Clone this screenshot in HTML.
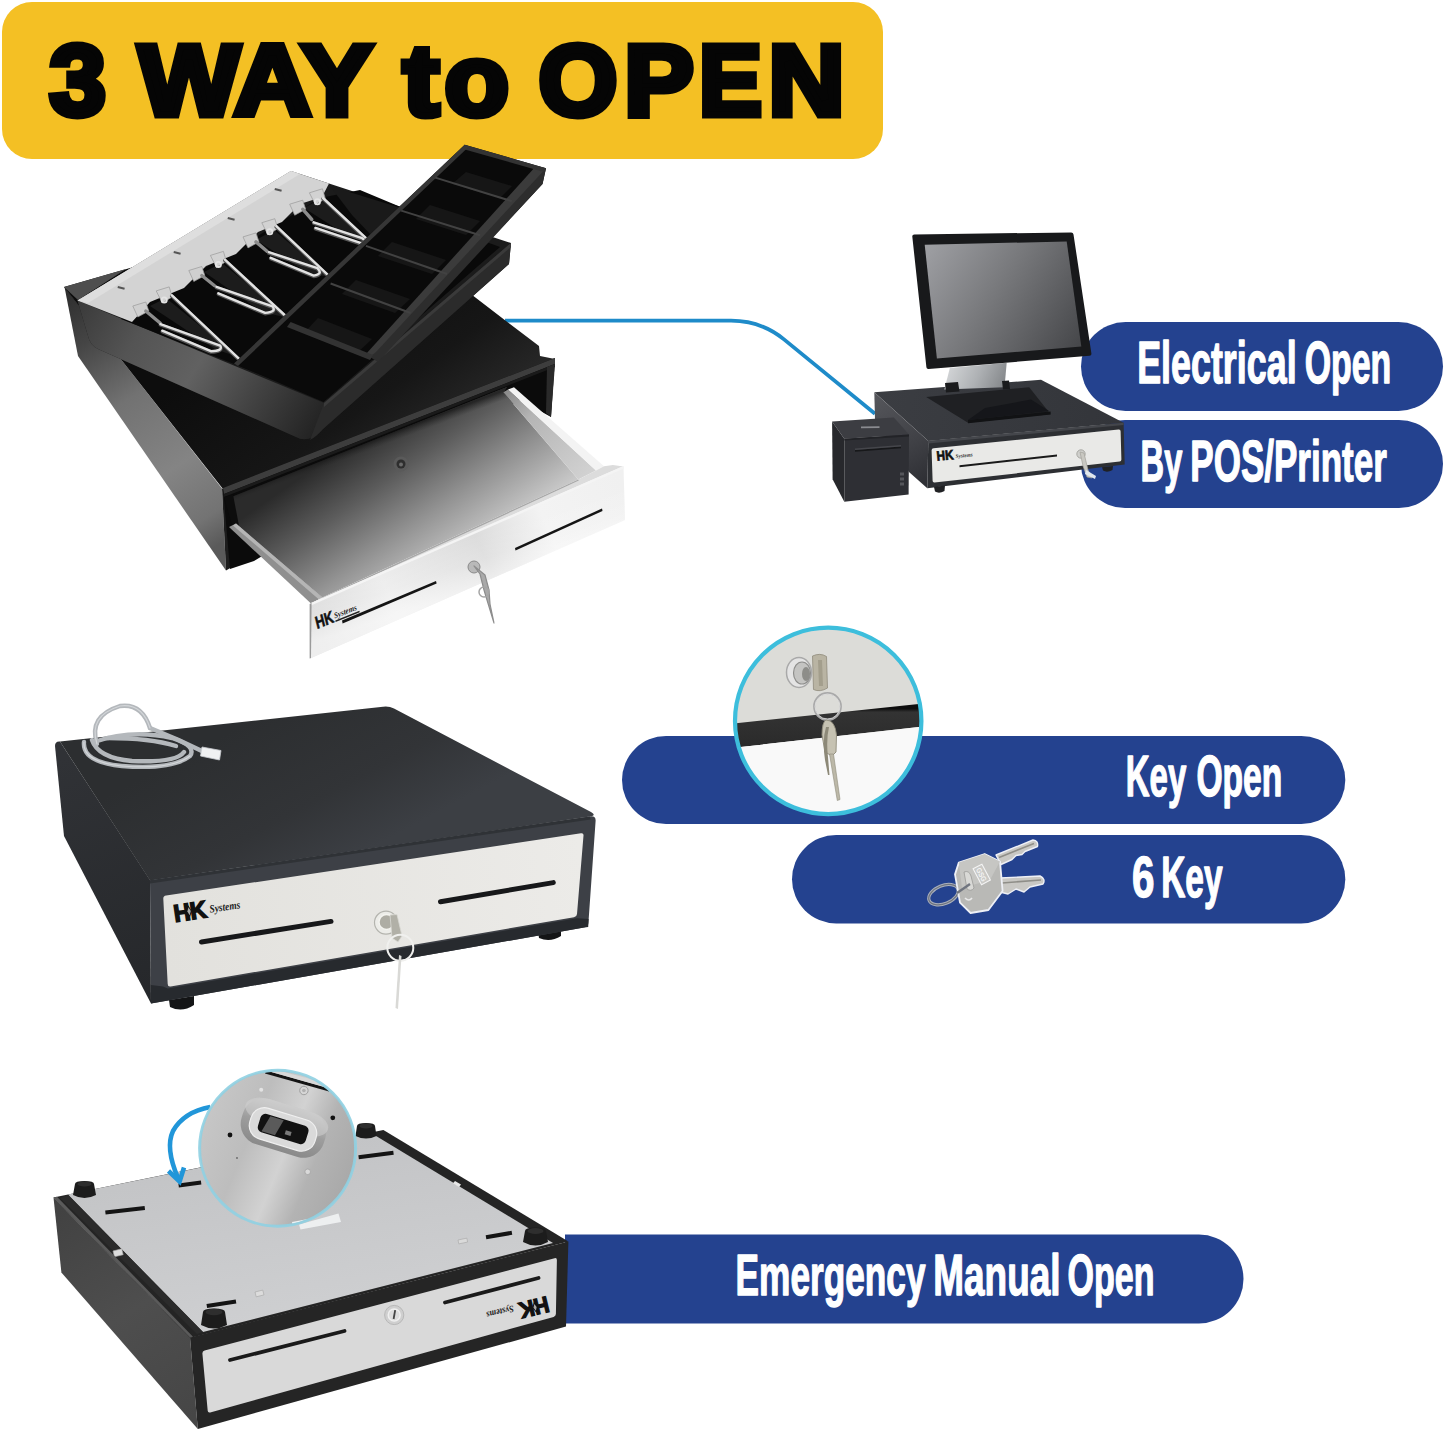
<!DOCTYPE html>
<html><head><meta charset="utf-8"><title>3 WAY to OPEN</title>
<style>
html,body{margin:0;padding:0;background:#fff;overflow:hidden}
svg{display:block}
text{font-family:"Liberation Sans",sans-serif;font-weight:bold}
</style></head>
<body>
<svg width="1445" height="1433" viewBox="0 0 1445 1433">
<rect width="1445" height="1433" fill="#fff"/>
<defs>
<linearGradient id="gLeftFace" gradientUnits="userSpaceOnUse" x1="66" y1="292" x2="226" y2="540">
<stop offset="0" stop-color="#2e2e2e"/><stop offset="0.18" stop-color="#454545"/><stop offset="0.42" stop-color="#727272"/><stop offset="0.7" stop-color="#848484"/><stop offset="0.9" stop-color="#737373"/><stop offset="1" stop-color="#5a5a5a"/>
</linearGradient>
<linearGradient id="gTrayWall" gradientUnits="userSpaceOnUse" x1="80" y1="300" x2="310" y2="440">
<stop offset="0" stop-color="#3a3a3a"/><stop offset="0.25" stop-color="#545454"/><stop offset="0.5" stop-color="#616161"/><stop offset="0.75" stop-color="#414141"/><stop offset="1" stop-color="#232323"/>
</linearGradient>
<linearGradient id="gDrawerFloor" gradientUnits="userSpaceOnUse" x1="366.7" y1="431.9" x2="464.9" y2="573.8">
<stop offset="0" stop-color="#2b2b2b"/><stop offset="0.3" stop-color="#5c5c5c"/><stop offset="0.6" stop-color="#939393"/><stop offset="1" stop-color="#d8d8d8"/>
</linearGradient>
<linearGradient id="gDrawerFloor2" gradientUnits="userSpaceOnUse" x1="240" y1="520" x2="600" y2="440">
<stop offset="0" stop-color="#000" stop-opacity="0"/><stop offset="1" stop-color="#fff" stop-opacity="0"/>
</linearGradient>
<linearGradient id="gPlate1" gradientUnits="userSpaceOnUse" x1="310" y1="630" x2="625" y2="490">
<stop offset="0" stop-color="#dadada"/><stop offset="0.25" stop-color="#ececec"/><stop offset="0.55" stop-color="#dcdcdc"/><stop offset="0.75" stop-color="#f3f3f3"/><stop offset="1" stop-color="#f0f0f0"/>
</linearGradient>
<linearGradient id="gCaseTop1" gradientUnits="userSpaceOnUse" x1="300" y1="300" x2="420" y2="470">
<stop offset="0" stop-color="#0d0d0d"/><stop offset="0.6" stop-color="#161616"/><stop offset="1" stop-color="#2b2b2b"/>
</linearGradient>
<linearGradient id="gDrawerShadow" gradientUnits="userSpaceOnUse" x1="370" y1="441" x2="373" y2="449">
<stop offset="0" stop-color="#0a0a0a" stop-opacity="0.6"/><stop offset="1" stop-color="#222" stop-opacity="0"/>
</linearGradient>
<linearGradient id="gScreen" gradientUnits="userSpaceOnUse" x1="930" y1="248" x2="1078" y2="345">
<stop offset="0" stop-color="#9c9da1"/><stop offset="0.45" stop-color="#77787b"/><stop offset="1" stop-color="#47484b"/>
</linearGradient>
<linearGradient id="gNeck" gradientUnits="userSpaceOnUse" x1="948" y1="365" x2="1006" y2="390">
<stop offset="0" stop-color="#d4d6d8"/><stop offset="0.5" stop-color="#aeb1b4"/><stop offset="1" stop-color="#7f8285"/>
</linearGradient>
<linearGradient id="gPosTop" gradientUnits="userSpaceOnUse" x1="880" y1="395" x2="1120" y2="430">
<stop offset="0" stop-color="#3b3d42"/><stop offset="1" stop-color="#33353a"/>
</linearGradient>
<linearGradient id="gP2Top" gradientUnits="userSpaceOnUse" x1="250" y1="720" x2="330" y2="870">
<stop offset="0" stop-color="#2c2e30"/><stop offset="0.6" stop-color="#323437"/><stop offset="1" stop-color="#3c3f44"/>
</linearGradient>
<linearGradient id="gP2Left" gradientUnits="userSpaceOnUse" x1="60" y1="760" x2="150" y2="990">
<stop offset="0" stop-color="#303236"/><stop offset="1" stop-color="#26282b"/>
</linearGradient>
<linearGradient id="gP2Panel" gradientUnits="userSpaceOnUse" x1="165" y1="940" x2="585" y2="875">
<stop offset="0" stop-color="#e2e1dd"/><stop offset="1" stop-color="#ecebe8"/>
</linearGradient>
<linearGradient id="gP3Left" gradientUnits="userSpaceOnUse" x1="60" y1="1210" x2="190" y2="1420">
<stop offset="0" stop-color="#424242"/><stop offset="0.5" stop-color="#4e4e4e"/><stop offset="1" stop-color="#464646"/>
</linearGradient>
<linearGradient id="gP3Plate" gradientUnits="userSpaceOnUse" x1="300" y1="1130" x2="330" y2="1330">
<stop offset="0" stop-color="#c2c3c5"/><stop offset="1" stop-color="#cfd0d2"/>
</linearGradient>
<clipPath id="cKey"><circle cx="828.2" cy="720.9" r="92"/></clipPath>
<clipPath id="cMag"><circle cx="277.6" cy="1148.2" r="77"/></clipPath>
<linearGradient id="gMag" gradientUnits="userSpaceOnUse" x1="205" y1="1120" x2="350" y2="1180">
<stop offset="0" stop-color="#c6c6c6"/><stop offset="0.3" stop-color="#bdbdbd"/><stop offset="0.55" stop-color="#d2d2d2"/><stop offset="0.75" stop-color="#b3b3b3"/><stop offset="1" stop-color="#a9a9a9"/>
</linearGradient>
<linearGradient id="gBump" x1="0" y1="0" x2="0" y2="1">
<stop offset="0" stop-color="#c9c9c9"/><stop offset="0.5" stop-color="#9d9d9d"/><stop offset="1" stop-color="#8a8a8a"/>
</linearGradient>
<linearGradient id="gKeyBand" x1="0" y1="0" x2="0" y2="1">
<stop offset="0" stop-color="#0e0e0e"/><stop offset="0.12" stop-color="#0e0e0e"/><stop offset="0.2" stop-color="#333"/><stop offset="1" stop-color="#2a2a2a"/>
</linearGradient>
<linearGradient id="gRightWall" gradientUnits="userSpaceOnUse" x1="505" y1="392" x2="590" y2="475">
<stop offset="0" stop-color="#8a8a8a"/><stop offset="0.3" stop-color="#b5b5b5"/><stop offset="1" stop-color="#d2d2d2"/>
</linearGradient>
<linearGradient id="gPlateFade" gradientUnits="userSpaceOnUse" x1="460" y1="540" x2="476" y2="588">
<stop offset="0" stop-color="#fff" stop-opacity="0"/><stop offset="0.5" stop-color="#fff" stop-opacity="0.15"/><stop offset="1" stop-color="#fff" stop-opacity="0.55"/>
</linearGradient>
<linearGradient id="gPosLeft" gradientUnits="userSpaceOnUse" x1="876" y1="396" x2="926" y2="480">
<stop offset="0" stop-color="#55565b"/><stop offset="0.6" stop-color="#404146"/><stop offset="1" stop-color="#2f3035"/>
</linearGradient>
</defs>
<!-- BANNER -->
<g id="banner">
<rect x="2" y="2" width="881" height="157" rx="30" ry="30" fill="#F4C024"/>
<g font-size="101" fill="#050505" stroke="#050505" stroke-width="7" stroke-linejoin="miter" stroke-miterlimit="2.5">
<text x="49.50" y="115.0" textLength="56.39" lengthAdjust="spacingAndGlyphs">3</text>
<text x="138.50" y="115.0" textLength="234.08" lengthAdjust="spacingAndGlyphs">WAY</text>
<text x="403.00" y="115.0" textLength="36.03" lengthAdjust="spacingAndGlyphs">t</text>
<text x="444.40" y="115.0" textLength="64.49" lengthAdjust="spacingAndGlyphs">o</text>
<text x="538.40" y="115.0" textLength="78.91" lengthAdjust="spacingAndGlyphs">O</text>
<text x="624.20" y="115.0" textLength="69.46" lengthAdjust="spacingAndGlyphs">P</text>
<text x="698.90" y="115.0" textLength="62.98" lengthAdjust="spacingAndGlyphs">E</text>
<text x="768.40" y="115.0" textLength="76.02" lengthAdjust="spacingAndGlyphs">N</text>
</g>
</g>
<!-- BLUE CONNECTOR -->
<path d="M505 320.7 H731 C752 320.7 768 326.3 784 339.4 L875 413.8" fill="none" stroke="#1E8BC9" stroke-width="3.8"/>
<!-- PRODUCT 1 : open cash drawer -->
<g id="p1">
<!-- case left face -->
<polygon points="64.5,287 222,488.4 226,570.5 78,356" fill="url(#gLeftFace)"/>
<polygon points="222,488.4 228,491 232,567 226,570.5" fill="#1d1d1d"/>
<!-- case top -->
<polygon points="64,287 130,268 355,205 506,321 539,346 540,356 555,359 223,489" fill="url(#gCaseTop1)"/>
<polygon points="64,287 126,269 78,300" fill="#4e4e4e"/>
<!-- case front (opening) -->
<polygon points="223,488 555,358 551,417 520,400 254,561 230,569" fill="#0b0b0b"/>
<!-- front top rim highlight -->
<polygon points="223,488 555,358 555,364 224,494" fill="#3d3d3d"/>
<polygon points="224,494 555,364 555,367 224,497" fill="#1a1a1a"/>
<!-- right side post -->
<polygon points="547,367 555,364 551,417 546,413" fill="#2a2a2a"/>
<!-- drawer floor -->
<polygon points="236,525 229,498 507,387 503.4,392.3 578.3,479.4 322.4,597.6" fill="url(#gDrawerFloor)"/>
<polygon points="236,525 229,498 507,387 503.4,392.3 578.3,479.4 322.4,597.6" fill="url(#gDrawerFloor2)"/>
<polygon points="236,525 229,498 507,387 503.4,392.3 578.3,479.4 322.4,597.6" fill="url(#gDrawerShadow)"/>
<polygon points="224,497 233,494.5 240,531 233,528" fill="#0d0d0d"/>
<!-- drawer left wall top edge -->
<polygon points="229,527 236,523.5 322.4,597.6 311,603.4" fill="#8f8f8f"/>
<polygon points="233,525.5 236,523.5 322.4,597.6 319,599.4" fill="#b5b5b5"/>
<!-- drawer right wall -->
<polygon points="503.4,392.3 508,389.5 596,470.5 578.3,479.4" fill="url(#gRightWall)"/>
<polygon points="508,389.5 514,387.3 604,466.3 596,470.5" fill="#f3f3f3"/>
<!-- front wall top band -->
<polygon points="322.4,597.6 578.3,479.4 596,470.5 604,466.3 612.9,464.9 623.3,466.4 311,603.4" fill="#dcdcdc"/>
<polygon points="322.4,597.6 578.3,479.4 578.8,480.6 322.8,598.9" fill="#a8a8a8"/>
<!-- hole -->
<circle cx="401" cy="464" r="7.5" fill="#5a5a5a"/><circle cx="401" cy="464" r="4.5" fill="#2e2e2e"/><circle cx="401" cy="464.5" r="2" fill="#6a6a6a"/>
<!-- front plate -->
<polygon points="311,603 623.5,466 625,520 310,658.5" fill="url(#gPlate1)"/>
<polygon points="311,603 623.5,466 623.7,468.5 311,605.5" fill="#f4f4f4"/>
<polygon points="311,603 623.5,466 625,520 310,658.5" fill="url(#gPlateFade)"/>
<polygon points="309.6,604 311.6,603 311,658 309.6,658.5" fill="#9a9a9a"/>
<!-- slots -->
<polygon points="342,620.5 436,581 436.6,583.6 342.6,623.4" fill="#151515"/>
<polygon points="515,548 602,508.5 602.5,511 515.5,550.5" fill="#151515"/>
<!-- logo -->
<g transform="translate(317,629) rotate(-22) skewX(-8)">
<text x="0" y="0" font-size="17" fill="#111" stroke="#111" stroke-width="0.6" textLength="19" lengthAdjust="spacingAndGlyphs">HK</text>
<text style="font-family:'Liberation Serif',serif;font-style:italic;font-weight:bold" x="20" y="-3" font-size="8" fill="#222" textLength="24" lengthAdjust="spacingAndGlyphs">Systems</text>
<rect x="20" y="-1" width="26" height="1.4" fill="#222"/>
</g>
<!-- lock + key -->
<circle cx="474" cy="567" r="6" fill="#b9b9b9" stroke="#8a8a8a" stroke-width="1"/>
<path d="M474 566 L480 574 L484 590 L487 600 L494 623 L490 604 L489 590 L485 575 Z" fill="#a9a9a9" stroke="#8d8d8d" stroke-width="1.2" stroke-linejoin="round"/>
<circle cx="484" cy="592" r="5" fill="none" stroke="#a5a5a5" stroke-width="1.5"/>
<!-- MAIN TRAY -->
<!-- outer shell -->
<path d="M77.5,300.5 L291,171 L329,183.5 L401,207 L511,243 L509,264 L322,430 Q308,444 296,437 L98,349 Q90,345 88,336 Z" fill="#1b1b1b"/>
<!-- front-left wall outer face -->
<path d="M77.5,300.5 L324,403 L322,430 Q308,444 296,437 L98,349 Q90,345 88,336 Z" fill="url(#gTrayWall)"/>
<!-- right wall outer face -->
<path d="M324,403 L511,243 L509,264 L322,430 Q316,437 310,440 Z" fill="#2b2b2b"/>
<path d="M324,403 L511,243 L511,247 L324,407 Z" fill="#3a3a3a"/>
<!-- tray interior -->
<polygon points="121,319 320,198 360,190 470,236 500,247 324,400" fill="#090909"/>
<!-- interior folds (bill compartments) -->
<polygon points="166,298 238,357 215,349 150,306" fill="#1c1c1c"/>
<polygon points="222,263 289,318 262,312 204,272" fill="#1c1c1c"/>
<polygon points="274,230 329,277 308,273 256,240" fill="#1c1c1c"/>
<polygon points="320,199 366,238 348,236 304,208" fill="#1c1c1c"/>
<polygon points="330,186 401,208 372,236 352,215" fill="#1a1a1a"/>
<!-- metal plate -->
<polygon points="77.5,300.5 291,171 329,183.5 322,197 300,204 282,222 258,232 236,254 206,266 184,288 150,302 132,322" fill="#d3d3d3"/>
<polygon points="77.5,300.5 291,171 300,174 88,303" fill="#dedede"/>
<!-- plate slots -->
<g fill="#555"><rect x="118" y="286" width="7" height="2" transform="rotate(14 118 286)"/><rect x="174" y="251" width="7" height="2" transform="rotate(14 174 251)"/><rect x="228" y="217" width="7" height="2" transform="rotate(14 228 217)"/><rect x="275" y="188" width="7" height="2" transform="rotate(14 275 188)"/></g>
<!-- clip hooks / tabs -->
<polygon points="156.2,290.9 169.2,286.9 172.2,296.9 162.2,302.9" fill="#d2d2d2" stroke="#9a9a9a" stroke-width="0.7"/>
<circle cx="164.2" cy="299.9" r="2.6" fill="none" stroke="#e4e4e4" stroke-width="1.8"/>
<polygon points="132.8,306.0 145.8,302.0 148.8,311.0 137.8,317.0" fill="#cfcfcf" stroke="#9a9a9a" stroke-width="0.7"/>
<path d="M145.8,311.0 L160.4,323.2" stroke="#8c8c8c" stroke-width="3.4" stroke-linecap="round" fill="none"/>
<polygon points="210.4,255.4 223.4,251.4 226.4,261.4 216.4,267.4" fill="#d2d2d2" stroke="#9a9a9a" stroke-width="0.7"/>
<circle cx="218.4" cy="264.4" r="2.6" fill="none" stroke="#e4e4e4" stroke-width="1.8"/>
<polygon points="188.8,270.5 201.8,266.5 204.8,275.5 193.8,281.5" fill="#cfcfcf" stroke="#9a9a9a" stroke-width="0.7"/>
<path d="M201.8,275.5 L214.6,285.8" stroke="#8c8c8c" stroke-width="3.4" stroke-linecap="round" fill="none"/>
<polygon points="261.8,222.7 274.8,218.7 277.8,228.7 267.8,234.7" fill="#d2d2d2" stroke="#9a9a9a" stroke-width="0.7"/>
<circle cx="269.8" cy="231.7" r="2.6" fill="none" stroke="#e4e4e4" stroke-width="1.8"/>
<polygon points="243.0,236.9 256.0,232.9 259.0,241.9 248.0,247.9" fill="#cfcfcf" stroke="#9a9a9a" stroke-width="0.7"/>
<path d="M256.0,241.9 L267.0,251.3" stroke="#8c8c8c" stroke-width="3.4" stroke-linecap="round" fill="none"/>
<polygon points="309.4,192.8 322.4,188.8 325.4,198.8 315.4,204.8" fill="#d2d2d2" stroke="#9a9a9a" stroke-width="0.7"/>
<circle cx="317.4" cy="201.8" r="2.6" fill="none" stroke="#e4e4e4" stroke-width="1.8"/>
<polygon points="289.7,204.2 302.7,200.2 305.7,209.2 294.7,215.2" fill="#cfcfcf" stroke="#9a9a9a" stroke-width="0.7"/>
<path d="M302.7,209.2 L311.8,219.5" stroke="#8c8c8c" stroke-width="3.4" stroke-linecap="round" fill="none"/>
<!-- clip wires -->
<g fill="none" stroke-linecap="round" stroke-linejoin="round">
<path d="M171.7,296.0 L238.9,359.5" stroke="#555" stroke-width="3.6"/>
<path d="M160.4,324.9 L220.2,346.4 Q223.6,351.7 210.9,352.0 L162.3,331.5" stroke="#555" stroke-width="3.6"/>
<path d="M171.7,295.2 L238.9,358.7" stroke="#e2e2e2" stroke-width="2.4"/>
<path d="M160.4,324.1 L220.2,345.6 Q223.6,350.9 210.9,351.2 L162.3,330.7" stroke="#e2e2e2" stroke-width="2.4"/>
<path d="M224.9,260.5 L288.4,319.3" stroke="#555" stroke-width="3.6"/>
<path d="M216.5,287.6 L272.6,307.2 Q276.8,313.0 265.1,313.7 L218.4,294.1" stroke="#555" stroke-width="3.6"/>
<path d="M224.9,259.7 L288.4,318.5" stroke="#e2e2e2" stroke-width="2.4"/>
<path d="M216.5,286.8 L272.6,306.4 Q276.8,312.2 265.1,312.9 L218.4,293.3" stroke="#e2e2e2" stroke-width="2.4"/>
<path d="M276.3,226.9 L330.5,278.2" stroke="#555" stroke-width="3.6"/>
<path d="M268.8,253.0 L317.4,268.9 Q323.5,275.1 313.7,276.4 L270.7,258.6" stroke="#555" stroke-width="3.6"/>
<path d="M276.3,226.1 L330.5,277.4" stroke="#e2e2e2" stroke-width="2.4"/>
<path d="M268.8,252.2 L317.4,268.1 Q323.5,274.3 313.7,275.6 L270.7,257.8" stroke="#e2e2e2" stroke-width="2.4"/>
<path d="M323.0,198.8 L366.0,239.0" stroke="#555" stroke-width="3.6"/>
<path d="M313.7,223.1 L362.2,239.0 Q369.3,243.8 360.4,243.7 L315.5,228.7" stroke="#555" stroke-width="3.6"/>
<path d="M323.0,198.0 L366.0,238.2" stroke="#e2e2e2" stroke-width="2.4"/>
<path d="M313.7,222.3 L362.2,238.2 Q369.3,243.0 360.4,242.9 L315.5,227.9" stroke="#e2e2e2" stroke-width="2.4"/>
</g>
<!-- COIN TRAY -->
<polygon points="464.7,144.7 546,168.2 542.5,184 380,358 372,360 323.5,402 234,363.5" fill="#0a0a0a"/>
<!-- coin tray right wall (outer) -->
<polygon points="546,168.2 542.5,184 378,362 370,357 540,172" fill="#2d2d2d"/>
<polygon points="536,166 546,168.2 376,352 370,357 366,354" fill="#3b3b3b"/>
<!-- coin tray top rim -->
<polygon points="464.7,144.7 546,168.2 544,172 463,149" fill="#333"/>
<!-- divider (left wall of coin tray) -->
<polygon points="464.7,144.7 469,146.5 238,366 234,363.5" fill="#363636"/>
<!-- compartment floor patches -->
<g fill="#161616">
<polygon points="466,172 512,186 500,198 452,184"/>
<polygon points="430,205 480,221 466,235 416,219"/>
<polygon points="392,242 446,260 432,274 378,256"/>
<polygon points="356,280 410,299 395,313 342,294"/>
<polygon points="318,318 372,339 356,354 304,333"/>
</g>
<!-- compartment dividers -->
<g stroke="#424242" stroke-width="2">
<line x1="435.3" y1="177.6" x2="511.8" y2="201.2"/>
<line x1="401.2" y1="210.6" x2="480" y2="235.3"/>
<line x1="365.9" y1="245.9" x2="447" y2="274"/>
<line x1="330.6" y1="283.5" x2="410.6" y2="313"/>
</g>
<polygon points="290.6,322 373,355 370,360 287,327" fill="#333"/>
</g>
<!-- PILLS -->
<g id="pills" fill="#24428F">
<rect x="1081" y="322" width="362" height="89" rx="44.5"/>
<rect x="1081" y="420" width="362" height="88" rx="44"/>
<rect x="622" y="736" width="723.3" height="88" rx="44"/>
<rect x="792" y="835" width="553.3" height="88.4" rx="44.2"/>
<path d="M565 1234.5H1199a44.5 44.5 0 0 1 0 89H565z"/>
</g>
<!-- POS SYSTEM -->
<g id="pos">
<!-- drawer -->
<polygon points="874.3,392.3 1041,379.8 1123.6,422.7 928.3,441" fill="url(#gPosTop)"/>
<polygon points="874.3,392.3 928.3,441 927.3,488.2 909,472 875,420" fill="url(#gPosLeft)"/>
<polygon points="928.3,441 1123.6,422.7 1124.7,464.6 927.3,488.2" fill="#2d2f33"/>
<polygon points="928.3,441 1123.6,422.7 1123.6,425 928.3,443.4" fill="#44464b"/>
<!-- white panel -->
<path d="M933.6,448.3 L1118.6,429.4 Q1120.6,429.2 1120.6,431.2 L1121.4,459.6 Q1121.4,461.4 1119.6,461.6 L934.6,482.6 Q932.6,482.8 932.6,480.8 L931.6,450.3 Q931.6,448.5 933.6,448.3 Z" fill="#e9e9e7"/>
<polygon points="959.5,465.2 1057,454.5 1057,456.5 959.5,467.2" fill="#1a1a1a"/>
<!-- logo -->
<g transform="translate(937,460.8) rotate(-5.5)">
<text x="0" y="0" font-size="13.5" fill="#111" stroke="#111" stroke-width="0.7" textLength="17" lengthAdjust="spacingAndGlyphs">HK</text>
<text style="font-family:'Liberation Serif',serif;font-style:italic;font-weight:bold" x="19" y="-1" font-size="5.5" fill="#333" textLength="17" lengthAdjust="spacingAndGlyphs">Systems</text>
</g>
<!-- lock / key -->
<circle cx="1081" cy="454" r="4.2" fill="#cfcfcc" stroke="#9a9a96" stroke-width="0.8"/>
<path d="M1080 452 L1084 453 L1088 470 L1092 478 L1087 477 L1083 466 Z" fill="#c9c8c2" stroke="#a3a29b" stroke-width="0.7"/>
<path d="M1086 470 L1096 476 L1095 479 L1085 474 Z" fill="#dfe6ee"/>
<!-- feet -->
<path d="M934,487 L945,485.6 L944.5,491 Q939,494 935,491.5 Z" fill="#202124"/>
<path d="M1102,467.2 L1113,466 L1112.5,470 Q1107,473 1103,470.5 Z" fill="#202124"/>
<!-- stand base -->
<polygon points="926.2,397 1029.2,387.3 1050.6,414.2 968,422.7" fill="#1f2023"/>
<polygon points="968,420 1050.6,411.5 1050.6,414.6 968,423.2" fill="#111214"/>
<polygon points="985,408 1031,399.5 1049,411 968,420" fill="#15161a"/>
<!-- neck -->
<polygon points="949.8,368 1006.7,362.7 1004.5,387.3 944.4,389.5" fill="url(#gNeck)"/>
<polygon points="945,383 958,382 959.5,391.5 946,392.5" fill="#1a1b1d"/>
<polygon points="1002,381 1009,380.5 1010,389 1003,389.5" fill="#1a1b1d"/>
<!-- monitor -->
<path d="M914.3,234.5 L1071.2,232.4 Q1073.2,232.4 1073.5,234.4 L1091.4,353.6 Q1091.6,355.6 1089.6,355.8 L928.6,369 Q926.6,369.2 926.4,367.2 L912.3,236.6 Q912.1,234.6 914.3,234.5 Z" fill="#18191b"/>
<polygon points="924.7,244.7 1066.7,241.5 1081.3,346.6 936.9,358.4" fill="url(#gScreen)"/>
<!-- printer -->
<polygon points="832.1,421.6 893.8,417.5 909,434.6 844.3,438.7" fill="#3c3d42"/>
<polygon points="832.1,421.6 844.3,438.7 844.3,501.7 832.6,479.2" fill="#27282c"/>
<polygon points="844.3,438.7 909,434.6 908.6,494.5 844.3,501.7" fill="#2e2f34"/>
<polygon points="844.3,438.7 909,434.6 909,436.4 844.3,440.5" fill="#222327"/>
<polygon points="855,450 901,446.4 901,448.2 855,451.8" fill="#17181a"/>
<polygon points="855,448.6 901,445 901,446.4 855,450" fill="#45464b"/>
<rect x="861" y="426.6" width="18.5" height="1.6" fill="#8a8b90" transform="rotate(-1 861 427)"/>
<g fill="#55565b"><rect x="900" y="472.5" width="4" height="3"/><rect x="900" y="477.5" width="4" height="3"/><rect x="900" y="482.5" width="4" height="3"/></g>
</g>
<!-- KEY CLOSE-UP CIRCLE -->
<g id="keycircle">
<circle cx="828.2" cy="720.9" r="93.2" fill="#fafafa"/>
<g clip-path="url(#cKey)">
<rect x="730" y="620" width="200" height="120" fill="#dcdcd8"/>
<polygon points="730,723.9 926,703.2 926,726.3 730,748.2" fill="url(#gKeyBand)"/>
<polygon points="730,748.2 926,726.3 926,830 730,830" fill="#f9f9f9"/>
<!-- lock -->
<ellipse cx="799" cy="672.5" rx="12.5" ry="15" fill="#e4e4e4" stroke="#a9a9a9" stroke-width="1.5"/>
<ellipse cx="802" cy="673" rx="8.5" ry="11" fill="#c4c4c2" stroke="#8e8e8c" stroke-width="1.2"/>
<ellipse cx="806" cy="674" rx="4" ry="7" fill="#8d8d89"/>
<!-- key head in lock -->
<path d="M812.5,656 Q820,652.5 826.5,656.5 L827.5,688 Q820,692.5 813.5,689.5 Z" fill="#b9b4a3" stroke="#918c7c" stroke-width="0.8"/>
<path d="M818,660 L822,660 L823,686 L819,686 Z" fill="#a39e8c"/>
<!-- ring -->
<circle cx="827.5" cy="706.5" r="13.3" fill="none" stroke="#a9a9a9" stroke-width="2.2"/>
<circle cx="827.5" cy="706.5" r="12.5" fill="none" stroke="#e2e2e2" stroke-width="0.8"/>
<!-- hanging keys -->
<path d="M826,720 Q835,720 836.5,735 L836,752 L832,756 L825,752 L822,735 Q822,722 826,720 Z" fill="#c6c2b2" stroke="#8f8b7b" stroke-width="0.9"/>
<path d="M826,727 Q822,740 825,760 L828,775 L829.5,775 L828,757 Q826,740 829,727 Z" fill="#8d8978"/>
<path d="M829.5,754 L833.5,754 L840,799.5 L837.3,800.5 Z" fill="#bcb8a8" stroke="#8f8b7b" stroke-width="0.6"/>
</g>
<circle cx="828.2" cy="720.9" r="93.2" fill="none" stroke="#3DBEDC" stroke-width="4.2"/>
</g>
<!-- KEY BUNCH -->
<g id="keys">
<!-- ring -->
<ellipse cx="943.5" cy="894.6" rx="15.5" ry="9" transform="rotate(-22 943.5 894.6)" fill="none" stroke="#aab0bb" stroke-width="3.2"/>
<ellipse cx="943.5" cy="894.6" rx="15.5" ry="9" transform="rotate(-22 943.5 894.6)" fill="none" stroke="#6e7480" stroke-width="1.2"/>
<!-- blades -->
<path d="M996,855 L1033,840 Q1038.5,840.5 1037.5,846.5 L1025,851.5 L1022,854.5 L1016,855.5 L1012,859.5 L1001,864.5 Z" fill="#c9c8c4" stroke="#eef0f6" stroke-width="1.4" stroke-linejoin="round"/>
<path d="M999,857.5 L1034,843.5" stroke="#8f8e88" stroke-width="1.6" fill="none"/>
<path d="M1000,878 L1040,876 Q1046,879 1043,884 L1030,887 L1024,892 L1016,889 L1008,894 L1000,892 Z" fill="#c9c8c4" stroke="#eef0f6" stroke-width="1.4" stroke-linejoin="round"/>
<path d="M1002,883 L1041,880" stroke="#8f8e88" stroke-width="1.6" fill="none"/>
<!-- bow -->
<path d="M958.8,862.6 L984.7,854 L1000,861.5 L1002.6,891 L988.4,910 L970.6,913 L960,902.6 L955,874.4 Z" fill="#b9b9b6" stroke="#eef0f6" stroke-width="1.8" stroke-linejoin="round"/>
<path d="M958.8,862.6 L984.7,854 L1000,861.5 L990,880 L962,888 Z" fill="#c6c6c3"/>
<!-- label -->
<g transform="translate(977.5,866.5) rotate(62)"><rect x="0" y="-5" width="18" height="10" fill="#c9c9c6" stroke="#f4f4f4" stroke-width="1.1"/><text x="1.8" y="3" font-size="7.5" fill="#f4f4f4" textLength="14.5" lengthAdjust="spacingAndGlyphs">GSG</text></g>
<!-- hole + ring through -->
<path d="M964,872 Q969,870 971,876 L974,888 Q971,892 967,889 Z" fill="#d9d9d6" stroke="#9b9b98" stroke-width="0.8"/>
<path d="M957,893 L970,884" stroke="#70757f" stroke-width="2.4" fill="none"/>
<path d="M965,898 Q969,902 972,898" stroke="#e9e9e9" stroke-width="1.6" fill="none"/>
</g>
<!-- PRODUCT 2 : closed drawer -->
<g id="p2">
<!-- feet -->
<path d="M169,1000 L194,996 L194,1005 Q182,1013 170,1007 Z" fill="#141516"/>
<path d="M538,931 L561,927 L561,936 Q550,943 539,938 Z" fill="#141516"/>
<!-- left face -->
<path d="M55,746 Q55,741 60,741.5 L150,880 L151,1003.5 L64,836 Z" fill="url(#gP2Left)"/>
<!-- top face -->
<path d="M60,741.5 L383,706.8 Q389,706 394,708.6 L591,812 Q597,815.5 590,816.6 L150,880.5 Z" fill="url(#gP2Top)"/>
<!-- front frame -->
<path d="M150,880.3 L590,816.4 Q596,815.6 595.6,821 L588.4,923 Q588.2,927 584,927.6 L151,1003.5 Z" fill="#3d4046"/>
<path d="M150,880.3 L590,816.4 L590.6,819.4 L150,883.4 Z" fill="#2f3236"/>
<polygon points="151,985 163,986.5 167.8,988.5 577,918.2 588.6,919 588.4,923 588.2,927 584,927.6 151,1003.5" fill="#272a2e"/>
<!-- white panel -->
<path d="M166.2,895.6 L581,833.2 Q583.8,832.8 583.5,835.6 L577,914 Q576.8,916.8 574,917.3 L170.6,986.5 Q167.8,987 167.7,984 L163.3,898.8 Q163.2,896 166.2,895.6 Z" fill="url(#gP2Panel)"/>
<!-- slots -->
<path d="M201.5,942 L331,921.4" stroke="#17181a" stroke-width="5" stroke-linecap="round" fill="none"/>
<path d="M440.5,901.8 L553.3,882.6" stroke="#17181a" stroke-width="5" stroke-linecap="round" fill="none"/>
<!-- logo -->
<g transform="translate(175,922) rotate(-8.5)">
<text x="0" y="0" font-size="24" fill="#111" stroke="#111" stroke-width="1.6" textLength="33" lengthAdjust="spacingAndGlyphs">HK</text>
<polygon points="15.5,-14.5 18.3,-8.5 15.5,-2.5 12.7,-8.5" fill="#111"/><polygon points="15.5,-12.5 17.2,-8.5 15.5,-4.5 13.8,-8.5" fill="#a9a9a6"/>
<text style="font-family:'Liberation Serif',serif;font-style:italic;font-weight:bold" x="36" y="-4" font-size="11" fill="#222" textLength="31" lengthAdjust="spacingAndGlyphs">Systems</text>
</g>
<!-- lock -->
<circle cx="386" cy="922.6" r="11.5" fill="#ecece8" stroke="#b4b4ae" stroke-width="1.2"/>
<circle cx="386.5" cy="922" r="7.5" fill="#aeada4" stroke="#f4f4f0" stroke-width="1.4"/>
<path d="M390,915 L397,914.5 L402,936 L398,942 L392,938 L391,926 Z" fill="#b1b0a7" stroke="#d9d9d4" stroke-width="0.8"/>
<!-- ring and key -->
<circle cx="400.3" cy="947.8" r="13" fill="none" stroke="#f0f0ee" stroke-width="2"/>
<path d="M399,955 L401.5,956 L398,1009 L395.5,1008 Z" fill="#d9d9d6"/>
<!-- cable -->
<g fill="none" stroke="#b4b8bc" stroke-width="4.4" stroke-linecap="round">
<path d="M97,744 Q88,716 120,706 Q142,703 150,728"/>
<path d="M84,742 Q82,762 122,766 Q172,770 190,756 Q197,746 172,738 Q132,729 94,742"/>
<path d="M92,740 Q98,758 132,761 Q176,763 184,752"/>
<path d="M108,738 Q150,738 176,746"/>
<path d="M150,728 Q178,739 204,752"/>
</g>
<g fill="none" stroke="#d3d6d9" stroke-width="1.2" stroke-linecap="round">
<path d="M84,742 Q82,762 122,766 Q172,770 190,756"/>
<path d="M97,744 Q88,716 120,706 Q142,703 150,728"/>
</g>
<polygon points="202,747 221,750.5 219.5,760 200.5,756" fill="#f0f1f2" stroke="#c9ccd0" stroke-width="0.8"/>
</g>
<!-- PRODUCT 3 : upside-down drawer -->
<g id="p3">
<!-- left face -->
<polygon points="53.5,1197.5 190,1337.6 197.8,1429 61.4,1272.5" fill="url(#gP3Left)"/>
<!-- top rim (black) -->
<polygon points="53.5,1197.5 383.4,1130 568.4,1241.5 190,1338" fill="#242424"/>
<!-- plate -->
<polygon points="68,1194.6 370.7,1132.7 553,1243 203,1332" fill="url(#gP3Plate)"/>
<polygon points="455,1181 461,1184.6 459,1187 453,1183.2" fill="#e6e6e6"/>
<polygon points="68,1195 203,1332 197,1334 60,1198" fill="#2b2b2b"/>
<!-- plate slots -->
<g stroke="#141414" stroke-width="4" fill="none">
<path d="M105.4,1212.5 L144.8,1208"/><path d="M178.6,1185.5 L201.1,1182.6"/><path d="M206.8,1306 L236,1301.6"/>
<path d="M358.6,1157.3 L393.5,1152.8"/><path d="M486,1237.3 L511.9,1232.8"/>
</g>
<!-- back feet (on plate) -->
<path d="M357,1126 Q357,1123 366,1123 Q375,1123 375,1126 L376.5,1136 Q366,1141 355.5,1136 Z" fill="#1c1c1c"/>
<path d="M75,1184 Q75,1181 84.5,1181 Q94,1181 94,1184 L96,1195 Q84.5,1201 73,1195 Z" fill="#1c1c1c"/>
<!-- small tabs -->
<rect x="113" y="1251" width="9" height="6" fill="#dcdcdc" stroke="#a8a8a8" stroke-width="0.6" transform="rotate(-14 113 1251)"/>
<rect x="255" y="1292" width="8" height="5" fill="#dcdcdc" stroke="#a8a8a8" stroke-width="0.6" transform="rotate(-14 255 1292)"/>
<rect x="458" y="1240" width="9" height="4" fill="#dadada" stroke="#a8a8a8" stroke-width="0.6" transform="rotate(-12 458 1240)"/>
<!-- front frame -->
<polygon points="190,1337.6 568.4,1241.5 566,1326.5 197.8,1429" fill="#252525"/>
<polygon points="53.5,1197.5 57,1196.8 193,1336.8 190,1337.6" fill="#5a5a5a"/>
<!-- white panel -->
<path d="M204.6,1350.6 L554.6,1258.2 Q556.9,1257.6 556.9,1260 L555.9,1314 Q555.8,1316.2 553.6,1316.9 L210.2,1412.5 Q207.9,1413.1 207.7,1410.8 L202.4,1353.5 Q202.3,1351.2 204.6,1350.6 Z" fill="#d9d9d9"/>
<!-- slots -->
<path d="M230,1360 L344.5,1331" stroke="#1a1a1a" stroke-width="3.8" stroke-linecap="round" fill="none"/>
<path d="M445,1302.5 L538.5,1278" stroke="#1a1a1a" stroke-width="3.8" stroke-linecap="round" fill="none"/>
<!-- lock -->
<circle cx="394.2" cy="1315" r="9.6" fill="#cfcfcf" stroke="#b8b8b8" stroke-width="1"/>
<circle cx="394.2" cy="1315" r="6" fill="#dcdcdc" stroke="#efefef" stroke-width="1.4"/>
<rect x="393.4" y="1310" width="1.8" height="9" fill="#444" transform="rotate(10 394 1315)"/>
<!-- upside-down logo -->
<g transform="translate(546.8,1296.3) rotate(166.3)">
<text x="0" y="0" font-size="22.5" fill="#111" stroke="#111" stroke-width="1.4" textLength="30" lengthAdjust="spacingAndGlyphs">HK</text>
<polygon points="14,-13.5 16.8,-8 14,-2.5 11.2,-8" fill="#111"/><polygon points="14,-11.5 15.6,-8 14,-4.5 12.4,-8" fill="#a9a9a9"/>
<text style="font-family:'Liberation Serif',serif;font-style:italic;font-weight:bold" x="35" y="-1" font-size="9.5" fill="#222" textLength="28" lengthAdjust="spacingAndGlyphs">Systems</text>
</g>
<!-- front feet -->
<path d="M525,1231 Q525,1227.5 535.5,1227.5 Q546,1227.5 546,1231 L548,1242 Q535.5,1249 523,1242 Z" fill="#1c1c1c"/>
<ellipse cx="535.5" cy="1231" rx="8" ry="3" fill="#2e2e2e"/>
<path d="M203,1312 Q203,1308.5 214,1308.5 Q225,1308.5 225,1312 L227,1325 Q214,1332 201,1325 Z" fill="#1c1c1c"/>
<ellipse cx="214" cy="1312" rx="8.5" ry="3.2" fill="#2e2e2e"/>
<ellipse cx="84.5" cy="1184" rx="7" ry="2.6" fill="#2e2e2e"/>
<ellipse cx="366" cy="1126" rx="6.5" ry="2.4" fill="#2e2e2e"/>
</g>
<!-- MAGNIFIER + ARROW -->
<g id="mag">
<path d="M210.2,1107.1 Q184,1112 173,1131 Q165,1148 178,1178" fill="none" stroke="#2196D9" stroke-width="4.6" stroke-linecap="butt"/>
<path d="M168.5,1171 L179.6,1181.5 L184,1167.5" fill="none" stroke="#2196D9" stroke-width="4.6" stroke-linejoin="miter" stroke-linecap="butt"/>
<circle cx="277.6" cy="1148.2" r="78" fill="url(#gMag)"/>
<g clip-path="url(#cMag)">
<!-- black top strip -->
<polygon points="266,1070.5 330,1088.5 329,1091.5 265,1073.5" fill="#141414"/>
<polygon points="262,1066 336,1086 331,1089 266,1070.5" fill="#d8d8d8"/>
<!-- bump -->
<g transform="translate(283.3,1128.5) rotate(17)">
<rect x="-43" y="-24" width="86" height="47" rx="21" fill="url(#gBump)"/>
<rect x="-43" y="-24" width="86" height="24" rx="21" fill="#cfcfcf" opacity="0.55"/>
<rect x="-34" y="-15" width="68" height="32" rx="14" fill="#dadada" stroke="#efefef" stroke-width="1.2"/>
<rect x="-25" y="-9" width="50" height="19" rx="5" fill="#121212"/>
<polygon points="-16,-8 -2,-8 -6,9 -20,9" fill="#5a5a5a"/>
<rect x="3" y="1" width="6" height="4" fill="#7a7a7a"/>
</g>
<!-- screws / holes -->
<circle cx="303.9" cy="1090.5" r="4.2" fill="#d6d6d6" stroke="#9a9a9a" stroke-width="0.9"/>
<circle cx="303.9" cy="1090.5" r="1.8" fill="#b0b0b0"/>
<circle cx="261.2" cy="1089.8" r="2" fill="#e3e3e3"/>
<circle cx="230" cy="1135" r="2.4" fill="#111"/>
<circle cx="332.8" cy="1117.8" r="2.4" fill="#111"/>
<circle cx="307.7" cy="1171.8" r="2.8" fill="#d9d9d9" stroke="#9f9f9f" stroke-width="0.7"/>
<circle cx="237" cy="1158" r="0.9" fill="#666"/>
<!-- sticker -->
<polygon points="292,1222 340,1213 342,1225 294,1234" fill="#eef2f4"/>
</g>
<polygon points="299,1224.5 338.5,1213.5 341,1222 300.5,1229.5" fill="#f1f3f4" opacity="0.9"/>
<circle cx="277.6" cy="1148.2" r="78" fill="none" stroke="#8fd0e2" stroke-width="3" opacity="0.9"/>
</g>
<!-- LABELS -->
<g id="labels" fill="#fff" stroke="#fff" stroke-width="1.4" stroke-linejoin="round">
<text x="1137.20" y="383.2" font-size="58.5" textLength="159.40" lengthAdjust="spacingAndGlyphs">Electrical</text>
<text x="1304.70" y="383.2" font-size="58.5" textLength="86.61" lengthAdjust="spacingAndGlyphs">Open</text>
<text x="1140.60" y="480.6" font-size="58" textLength="41.68" lengthAdjust="spacingAndGlyphs">By</text>
<text x="1190.30" y="480.6" font-size="58" textLength="196.54" lengthAdjust="spacingAndGlyphs">POS/Printer</text>
<text x="1125.70" y="796" font-size="57" textLength="60.56" lengthAdjust="spacingAndGlyphs">Key</text>
<text x="1196.40" y="796" font-size="57" textLength="85.92" lengthAdjust="spacingAndGlyphs">Open</text>
<text x="1132.10" y="897.3" font-size="57" textLength="22.40" lengthAdjust="spacingAndGlyphs">6</text>
<text x="1161.20" y="897.3" font-size="57" textLength="61.38" lengthAdjust="spacingAndGlyphs">Key</text>
<text x="735.60" y="1294.5" font-size="56.5" textLength="189.94" lengthAdjust="spacingAndGlyphs">Emergency</text>
<text x="933.30" y="1294.5" font-size="56.5" textLength="127.19" lengthAdjust="spacingAndGlyphs">Manual</text>
<text x="1067.60" y="1294.5" font-size="56.5" textLength="86.85" lengthAdjust="spacingAndGlyphs">Open</text>
</g>
</svg>
</body></html>
